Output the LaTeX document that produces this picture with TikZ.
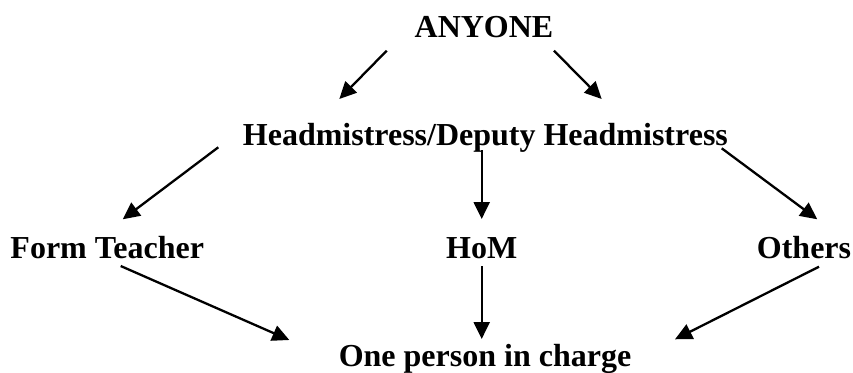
\documentclass[tikz,border=0pt]{standalone}
\usepackage{fontspec}
\setmainfont{Liberation Serif}
\usetikzlibrary{arrows.meta}
\begin{document}
\begin{tikzpicture}[x=1pt,y=-1pt,
  lbl/.style={anchor=base,inner sep=0pt,font=\fontsize{32}{36}\selectfont\bfseries},
  arr/.style={line width=2.3pt,-{Triangle[length=17pt,width=16pt]}}]
\useasboundingbox (0,0) rectangle (853,372);
\node[lbl] (any) at (484,37) {ANYONE};
\node[lbl] (head) at (485.4,145) {Headmistress/Deputy Headmistress};
\node[lbl] (form) at (107.2,258) {Form Teacher};
\node[lbl] (hom) at (481.7,258) {HoM};
\node[lbl] (oth) at (804,258) {Others};
\node[lbl] (one) at (485,366) {One person in charge};
% arrow end points
\coordinate (a1s) at (386.7,50.7); \coordinate (a1e) at (339.3,99);
\coordinate (a2s) at (554,50.7);   \coordinate (a2e) at (601.7,99);
\coordinate (a3s) at (218.3,147.3); \coordinate (a3e) at (122.7,219.3);
\coordinate (a4s) at (481.7,150);  \coordinate (a4e) at (481.7,219);
\coordinate (a5s) at (721.7,148.3); \coordinate (a5e) at (817.3,219.3);
\coordinate (a6s) at (120.7,266);  \coordinate (a6e) at (289.3,340);
\coordinate (a7s) at (481.7,266);  \coordinate (a7e) at (481.7,339);
\coordinate (a8s) at (819,266.7);  \coordinate (a8e) at (675,339.3);
\draw[arr] (a1s) -- (a1e);
\draw[arr] (a2s) -- (a2e);
\draw[arr] (a3s) -- (a3e);
\draw[arr] (a4s) -- (a4e);
\draw[arr] (a5s) -- (a5e);
\draw[arr] (a6s) -- (a6e);
\draw[arr] (a7s) -- (a7e);
\draw[arr] (a8s) -- (a8e);
\end{tikzpicture}
\end{document}
